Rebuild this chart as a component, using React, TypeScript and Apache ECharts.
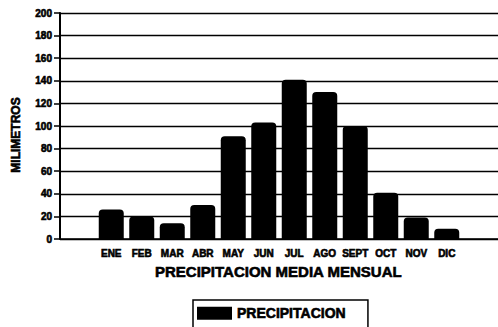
import React, { useEffect, useRef } from "react";
import * as echarts from "echarts";

const months = ["ENE", "FEB", "MAR", "ABR", "MAY", "JUN", "JUL", "AGO", "SEPT", "OCT", "NOV", "DIC"];
const precipitation = [26, 20, 14, 30, 91, 103, 141, 130, 100, 41, 19, 9];
const seriesName = "PRECIPITACION";
const yTitle = "MILIMETROS";
const xTitle = "PRECIPITACION MEDIA MENSUAL";

const FONT = "'Liberation Sans', Arial, sans-serif";
const heavy = { textBorderColor: "#000", textBorderWidth: 0.6 };

export default function App() {
  const ref = useRef<HTMLDivElement>(null);
  useEffect(() => {
    if (!ref.current) return;
    const chart = echarts.init(ref.current, null, { renderer: "svg" });
    chart.setOption({
      animation: false,
      backgroundColor: "#ffffff",
      textStyle: { fontFamily: FONT, fontWeight: "bold", color: "#000" },
      title: {
        text: xTitle,
        left: 150,
        top: 259,
        textStyle: { fontFamily: FONT, fontWeight: "bold", fontSize: 15, color: "#000", ...heavy },
      },
      legend: {
        data: [seriesName],
        left: 193,
        top: 300,
        icon: "rect",
        itemWidth: 35,
        itemHeight: 13,
        itemGap: 8,
        padding: [6, 22, 12, 4],
        borderColor: "#000",
        borderWidth: 1.5,
        textStyle: { fontFamily: FONT, fontWeight: "bold", fontSize: 14, color: "#000", ...heavy },
      },
      grid: [
        { left: 60, right: 0, top: 13, bottom: 88 },
        { left: 96, right: 36, top: 13, bottom: 88 },
      ],
      xAxis: [
        {
          gridIndex: 0,
          type: "category",
          data: months,
          axisLine: { show: true, lineStyle: { color: "#000", width: 1.5 } },
          axisTick: { show: false },
          axisLabel: { show: false },
          splitLine: { show: false },
        },
        {
          gridIndex: 1,
          type: "category",
          data: months,
          axisLine: { show: false },
          axisTick: { show: false },
          axisLabel: {
            margin: 9,
            fontFamily: FONT,
            fontWeight: "bold",
            fontSize: 10,
            color: "#000",
            interval: 0,
            ...heavy,
          },
        },
      ],
      yAxis: [
        {
          gridIndex: 0,
          type: "value",
          min: 0,
          max: 200,
          interval: 20,
          name: yTitle,
          nameLocation: "middle",
          nameRotate: 90,
          nameGap: 38,
          nameTextStyle: {
            fontFamily: FONT,
            fontWeight: "bold",
            fontSize: 12,
            color: "#000",
            padding: [0, 18, 0, 0],
            ...heavy,
          },
          axisLine: { show: true, lineStyle: { color: "#000", width: 2 } },
          axisTick: { show: true, length: 6, lineStyle: { color: "#000", width: 1.5 } },
          axisLabel: {
            margin: 8,
            fontFamily: FONT,
            fontWeight: "bold",
            fontSize: 10,
            color: "#000",
            ...heavy,
          },
          splitLine: { show: true, lineStyle: { color: "#000", width: 1.3 } },
        },
        {
          gridIndex: 1,
          type: "value",
          min: 0,
          max: 200,
          interval: 20,
          show: false,
          splitLine: { show: false },
        },
      ],
      series: [
        {
          name: seriesName,
          type: "bar",
          xAxisIndex: 1,
          yAxisIndex: 1,
          data: precipitation,
          barWidth: 25,
          itemStyle: { color: "#000", borderRadius: [4, 4, 0, 0] },
        },
      ],
    });
    return () => chart.dispose();
  }, []);
  return (
    <div
      ref={ref}
      style={{ position: "fixed", left: 0, top: 0, width: 498, height: 327, background: "#fff" }}
    />
  );
}
